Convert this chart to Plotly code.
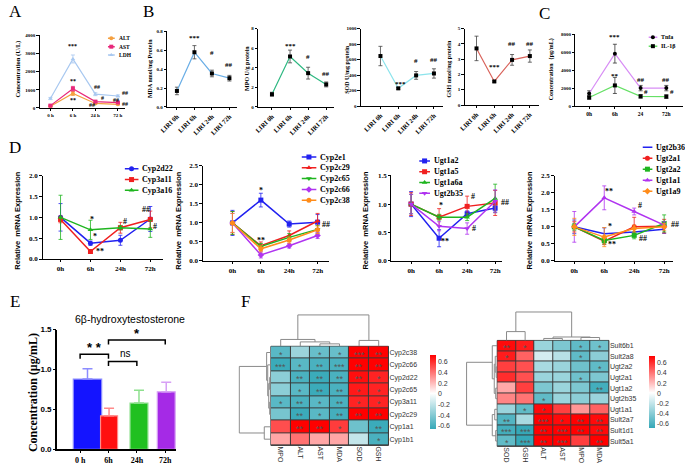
import plotly.graph_objects as go

W, H = 685, 470
SERIF = "Liberation Serif"
SANS = "Liberation Sans"

# ====================== DATA ======================
A_times = ["0 h", "6 h", "24 h", "72 h"]
A_names = ["ALT", "AST", "LDH"]
A_ALT = [100, 800, 250, 200]
A_ALT_err = [30, 110, 40, 30]
A_AST = [130, 1060, 350, 300]
A_AST_err = [40, 130, 50, 40]
A_LDH = [520, 2700, 760, 660]
A_LDH_err = [60, 220, 80, 60]
A_marks = [(1, 3400, "***"), (1, 1500, "**"), (1, 430, "**"), (2.05, 1130, "##"),
           (2.33, 540, "#"), (1.85, 160, "##"), (3.3, 810, "##"), (2.9, 430, "##"), (3.3, 220, "##")]

B_times = ["LIRI 0h", "LIRI 6h", "LIRI 24h", "LIRI 72h"]
B_MDA = [0.17, 0.58, 0.355, 0.305]
B_MDA_err = [0.04, 0.07, 0.035, 0.03]
B_MPO = [1.3, 5.15, 3.45, 2.3]
B_MPO_err = [0.2, 0.65, 0.6, 0.25]
B_SOD = [645, 228, 395, 420]
B_SOD_err = [125, 12, 50, 60]
B_GSH = [3.7, 1.54, 2.95, 3.2]
B_GSH_err = [0.8, 0.05, 0.35, 0.4]
B_MDA_marks = [(1, 0.73, "***"), (2, 0.57, "#"), (3, 0.44, "##")]
B_MPO_marks = [(1, 6.2, "***"), (2, 5.1, "#"), (3, 3.4, "##")]
B_SOD_marks = [(1.15, 290, "***"), (2, 580, "#"), (3, 600, "##")]
B_GSH_marks = [(1, 2.5, "***"), (2, 4.0, "##"), (3, 4.0, "##")]

C_times = ["0h", "6h", "24", "72h"]
C_names = ["Tnfa", "IL-1β"]
C_Tnfa = [1400, 5850, 2000, 2000]
C_Tnfa_err = [300, 1050, 300, 300]
C_IL1b = [950, 2300, 1080, 1050]
C_IL1b_err = [200, 900, 200, 200]
C_marks = [(1, 7750, "***"), (1, 3400, "**"), (2, 2950, "##"), (2.2, 1550, "#"),
           (3, 2950, "##"), (3.2, 1550, "#")]

D_times = ["0h", "6h", "24h", "72h"]
D1_names = ["Cyp2d22", "Cyp3a11", "Cyp3a16"]
D1_Cyp2d22 = [1.0, 0.38, 0.45, 0.96]
D1_Cyp2d22_err = [0.33, 0.05, 0.12, 0.3]
D1_Cyp3a11 = [0.95, 0.18, 0.75, 0.95]
D1_Cyp3a11_err = [0.08, 0.03, 0.13, 0.2]
D1_Cyp3a16 = [1.0, 0.70, 0.75, 0.72]
D1_Cyp3a16_err = [0.53, 0.23, 0.05, 0.2]
D1_marks = [(1.05, 0.95, "*"), (1.15, 0.54, "*"), (1.32, 0.17, "**"), (2.15, 0.9, "#"),
            (2.85, 1.18, "##"), (3.15, 0.78, "#")]

D2_names = ["Cyp2e1", "Cyp2c29", "Cyp2c65", "Cyp2c66", "Cyp2c38"]
D2_Cyp2e1 = [1.0, 1.6, 0.97, 1.02]
D2_Cyp2e1_err = [0.33, 0.18, 0.08, 0.2]
D2_Cyp2c29 = [1.0, 0.40, 0.67, 1.05]
D2_Cyp2c29_err = [0.3, 0.1, 0.12, 0.2]
D2_Cyp2c65 = [1.0, 0.38, 0.62, 0.83]
D2_Cyp2c65_err = [0.3, 0.08, 0.1, 0.1]
D2_Cyp2c66 = [1.0, 0.16, 0.40, 0.67]
D2_Cyp2c66_err = [0.25, 0.08, 0.06, 0.08]
D2_Cyp2c38 = [1.0, 0.32, 0.55, 0.82]
D2_Cyp2c38_err = [0.25, 0.08, 0.08, 0.1]
D2_marks = [(1, 1.85, "*"), (1, 0.55, "**"), (3.3, 0.95, "##")]

D3_names = ["Ugt1a2", "Ugt1a5", "Ugt1a6a", "Ugt2b35"]
D3_Ugt1a2 = [1.0, 0.40, 0.83, 0.93]
D3_Ugt1a2_err = [0.22, 0.15, 0.05, 0.05]
D3_Ugt1a5 = [1.0, 0.77, 0.96, 1.02]
D3_Ugt1a5_err = [0.2, 0.15, 0.18, 0.22]
D3_Ugt1a6a = [1.0, 0.77, 0.77, 1.1]
D3_Ugt1a6a_err = [0.17, 0.05, 0.06, 0.25]
D3_Ugt2b35 = [1.0, 0.61, 0.57, 1.05]
D3_Ugt2b35_err = [0.17, 0.08, 0.1, 0.2]
D3_marks = [(1.05, 0.98, "*"), (1.22, 0.34, "**"), (2.2, 1.14, "#"), (2.25, 0.57, "#"),
            (3.35, 1.03, "##")]

D4_names = ["Ugt2b36", "Ugt2a1", "Ugt2a2", "Ugt1a1", "Ugt1a9"]
D4_Ugt2b36 = [1.0, 0.80, 0.85, 0.93]
D4_Ugt2b36_err = [0.2, 0.17, 0.12, 0.12]
D4_Ugt2a1 = [1.0, 0.58, 1.0, 1.02]
D4_Ugt2a1_err = [0.15, 0.1, 0.28, 0.2]
D4_Ugt2a2 = [1.0, 0.60, 0.75, 1.1]
D4_Ugt2a2_err = [0.1, 0.1, 0.1, 0.25]
D4_Ugt1a1 = [1.0, 1.85, 1.45, 1.05]
D4_Ugt1a1_err = [0.45, 0.35, 0.1, 0.1]
D4_Ugt1a9 = [1.0, 0.70, 0.95, 1.0]
D4_Ugt1a9_err = [0.25, 0.28, 0.1, 0.1]
D4_marks = [(1.15, 2.05, "**"), (1.2, 1.0, "*"), (1.25, 0.48, "**"), (2.2, 1.62, "#"),
            (2.3, 0.66, "##"), (3.35, 1.08, "##")]

E_times = ["0 h", "6h", "24h", "72h"]
E_vals = [0.88, 0.42, 0.58, 0.72]
E_err = [0.13, 0.095, 0.16, 0.12]
E_brackets = [(0, 1, 1.19, "**"), (1, 2, 1.10, "ns"), (1, 3, 1.37, "*")]

F1_cols = ["MPO", "ALT", "AST", "MDA", "SOD", "GSH"]
F1_rows = ["Cyp2c38", "Cyp2c66", "Cyp2d22", "Cyp2c65", "Cyp3a11", "Cyp2c29", "Cyp1a1", "Cyp1b1"]
F1_vals = [
    [-0.55, -0.33, -0.50, -0.50, 0.85, 0.72],
    [-0.65, -0.55, -0.60, -0.60, 0.72, 0.75],
    [-0.38, -0.60, -0.65, -0.60, 0.68, 0.62],
    [-0.38, -0.55, -0.65, -0.60, 0.65, 0.62],
    [-0.55, -0.60, -0.55, -0.60, 0.62, 0.62],
    [-0.45, -0.65, -0.55, -0.62, 0.75, 0.75],
    [0.50, 0.80, 0.75, 0.55, -0.48, -0.65],
    [0.25, 0.40, 0.25, 0.25, -0.20, -0.60],
]
F1_stars = [
    ["*", "", "*", "*", "***", "**"],
    ["***", "*", "**", "***", "**", "**"],
    ["", "**", "**", "**", "**", "*"],
    ["", "*", "**", "**", "*", "*"],
    ["*", "**", "*", "**", "*", "*"],
    ["", "**", "*", "**", "**", "**"],
    ["", "**", "**", "*", "", "**"],
    ["", "", "", "", "", "*"],
]
F1_col_tree = ((0, (1, (2, 3, 2.5), 4.5), 7), (4, 5, 6), 32)
F1_row_tree = ((0, (1, ((2, 3, 1.2), (4, 5, 1.2), 2.2), 3.2), 4.3), (6, 7, 6.7), 32)

F2_cols = ["SOD", "GSH", "ALT", "AST", "MPO", "MDA"]
F2_rows = ["Sult6b1", "Sult2a8", "Ugt2a2", "Ugt2a1", "Ugt1a2", "Ugt2b35", "Ugt1a1",
           "Sult2a7", "Sult1d1", "Sult5a1"]
F2_vals = [
    [0.70, 0.65, -0.35, -0.45, -0.55, -0.50],
    [0.65, 0.45, -0.15, -0.25, -0.55, -0.40],
    [0.55, 0.50, -0.30, -0.35, -0.50, -0.55],
    [0.60, 0.50, -0.35, -0.35, -0.50, -0.45],
    [0.25, 0.55, -0.45, -0.35, -0.45, -0.65],
    [0.35, 0.40, -0.55, -0.35, -0.40, -0.35],
    [-0.35, -0.55, 0.70, 0.55, 0.30, 0.45],
    [-0.60, -0.30, 0.80, 0.70, 0.75, 0.70],
    [-0.65, -0.70, 0.85, 0.75, 0.80, 0.70],
    [-0.55, -0.70, 0.80, 0.80, 0.55, 0.75],
]
F2_stars = [
    ["**", "*", "", "", "*", "*"],
    ["*", "", "", "", "*", ""],
    ["", "", "", "", "", "*"],
    ["", "", "", "", "*", ""],
    ["", "", "", "", "", "**"],
    ["", "", "*", "", "", ""],
    ["", "*", "*", "", "", ""],
    ["**", "", "***", "*", "**", "**"],
    ["***", "***", "**", "***", "**", "**"],
    ["*", "***", "**", "***", "", "**"],
]
F2_col_tree = ((0, 1, 9), ((2, 3, 2), (4, 5, 3), 3.5), 29)
F2_row_tree = ((0, ((1, (2, 3, 1.0), 2.0), (4, 5, 1.5), 3.0), 5), ((6, 7, 2.5), (8, 9, 1.5), 5), 31)

# ====================== FIGURE HELPERS ======================
fig = go.Figure()
layout = dict(width=W, height=H, margin=dict(l=0, r=0, t=0, b=0), paper_bgcolor="white",
              plot_bgcolor="white", showlegend=False, barmode="overlay")
ann = []
shapes = []
_n = [0]


def clamp(v):
    return max(0.0, min(1.0, v))


def new_axes(x0, x1, y0, y1, xo, yo):
    _n[0] += 1
    n = _n[0]
    s = "" if n == 1 else str(n)
    layout["xaxis" + s] = dict(domain=[clamp(x0 / W), clamp(x1 / W)], anchor="y" + s, **xo)
    layout["yaxis" + s] = dict(domain=[clamp(1 - y1 / H), clamp(1 - y0 / H)], anchor="x" + s, **yo)
    return "x" + s, "y" + s


def cat_x(labels, rng, fs, angle=0, font=SERIF, ticklen=2.5):
    return dict(range=rng, tickmode="array", tickvals=list(range(len(labels))), ticktext=labels,
                tickangle=angle, showline=True, linecolor="black", linewidth=0.8, ticks="outside",
                ticklen=ticklen, tickwidth=0.8, tickcolor="black", showgrid=False, zeroline=False,
                tickfont=dict(family=font, size=fs, color="black", weight="bold"))


def val_y(rng, dtick, fs, fmt=None, font=SERIF):
    d = dict(range=rng, tick0=0, dtick=dtick, showline=True, linecolor="black", linewidth=0.8,
             ticks="outside", ticklen=2.5, tickwidth=0.8, tickcolor="black", showgrid=False,
             zeroline=False, tickfont=dict(family=font, size=fs, color="black", weight="bold"))
    if fmt:
        d["tickformat"] = fmt
    return d


HIDDEN = dict(visible=False, showgrid=False, zeroline=False, fixedrange=True)


def series(xa, ya, y, err, color, symbol, msize=4, mcolor=None, lw=1.2, ecolor=None):
    fig.add_trace(go.Scatter(
        x=list(range(len(y))), y=y, mode="lines+markers", xaxis=xa, yaxis=ya,
        line=dict(color=color, width=lw),
        marker=dict(symbol=symbol, size=msize, color=mcolor or color),
        error_y=dict(type="data", array=err, color=ecolor or color, thickness=0.8, width=2),
        cliponaxis=False, hoverinfo="skip"))


def marks(xa, ya, lst, ppu, fs=7, font=SERIF):
    # place on nearest category, shifted in pixels so the anchor stays inside the axis range
    for x, y, t in lst:
        base = round(x)
        ann.append(dict(xref=xa, yref=ya, x=base, y=y, xshift=(x - base) * ppu, text=t,
                        showarrow=False,
                        font=dict(family=font, size=fs, color="black", weight="bold")))


def label(x, y, text, fs, font=SERIF, angle=0, bold=True, color="black"):
    ann.append(dict(xref="paper", yref="paper", x=x / W, y=1 - y / H, text=text, showarrow=False,
                    textangle=angle, xanchor="center", yanchor="middle",
                    font=dict(family=font, size=fs, color=color, weight="bold" if bold else "normal")))


def legend_box(names, colors, symbols, x0, y_first, dy, line_len, fs, msize=4, mcolors=None, text_w=40):
    n = len(names)
    tot = line_len + text_w
    xa, ya = new_axes(x0, x0 + tot, y_first - dy / 2, y_first + (n - 0.5) * dy,
                      dict(range=[0, tot], **HIDDEN), dict(range=[n - 0.5, -0.5], **HIDDEN))
    for i, (nm, c, s) in enumerate(zip(names, colors, symbols)):
        fig.add_trace(go.Scatter(x=[0, line_len], y=[i, i], mode="lines", xaxis=xa, yaxis=ya,
                                 line=dict(color=c, width=1.5), cliponaxis=False, hoverinfo="skip"))
        fig.add_trace(go.Scatter(x=[line_len / 2], y=[i], mode="markers", xaxis=xa, yaxis=ya,
                                 marker=dict(symbol=s, size=msize, color=(mcolors[i] if mcolors else c)),
                                 cliponaxis=False, hoverinfo="skip"))
        ann.append(dict(xref=xa, yref=ya, x=line_len + 2, y=i, text=nm, showarrow=False,
                        xanchor="left", yanchor="middle",
                        font=dict(family=SERIF, size=fs, color="black", weight="bold")))


# ====================== PANEL A ======================
xa, ya = new_axes(32, 118, 32, 106, cat_x(A_times, [-0.48, 3.3], 5),
                  val_y([0, 4000], 1000, 5))
cA = ["#f5a040", "#e8287a", "#a8c8f0"]
series(xa, ya, A_ALT, A_ALT_err, cA[0], "circle", 4)
series(xa, ya, A_AST, A_AST_err, cA[1], "square", 4)
series(xa, ya, A_LDH, A_LDH_err, cA[2], "triangle-up", 4)
marks(xa, ya, A_marks, 22.7, 6)
label(10, 66, "Concentration (U/L)", 6.5, angle=-90)
legend_box(A_names, cA, ["circle", "square", "triangle-up"], 101, 35, 8.5, 7, 5.5, 4, text_w=20)

# ====================== PANEL B ======================
B_specs = [
    (161, 232, 28, 105, [-0.56, 3.45], [0, 0.8], 0.2, ".1f", B_MDA, B_MDA_err, "#6aaee6", B_MDA_marks,
     143, "MDA nmol/mg Protein"),
    (253, 330, 25, 105, [-0.77, 3.44], [0, 8], 2, None, B_MPO, B_MPO_err, "#2fb882", B_MPO_marks,
     242, "MPO U/g protein"),
    (357, 440, 25, 104, [-1.1, 3.5], [0, 1000], 200, None, B_SOD, B_SOD_err, "#8de4ec", B_SOD_marks,
     343, "SOD U/mg protein"),
    (462, 537, 25, 103, [-0.67, 3.5], [0, 5], 1, None, B_GSH, B_GSH_err, "#d9645c", B_GSH_marks,
     446, "GSH nmol/mg protein"),
]
for (x0, x1, y0, y1, xr, yr, dt, fmt, vals, errs, col, mk, lx, lt) in B_specs:
    xa, ya = new_axes(x0, x1, y0, y1, cat_x(B_times, xr, 6.5, angle=-45), val_y(yr, dt, 5, fmt))
    series(xa, ya, vals, errs, col, "square", 4, mcolor="black", ecolor="#444444")
    marks(xa, ya, mk, 18, 7)
    label(lx, 66, lt, 6, angle=-90)

# ====================== PANEL C ======================
xa, ya = new_axes(574, 683, 31, 104, cat_x(C_times, [-0.54, 3.65], 5.5),
                  val_y([0, 8000], 2000, 5))
cC = ["#d88ef5", "#66e066"]
series(xa, ya, C_Tnfa, C_Tnfa_err, cC[0], "circle", 4, mcolor="black", ecolor="#333333")
series(xa, ya, C_IL1b, C_IL1b_err, cC[1], "square", 4, mcolor="black", ecolor="#333333")
marks(xa, ya, C_marks, 26, 7)
label(550, 67, "Concentration（pg/mL)", 6, angle=-90)
legend_box(C_names, cC, ["circle", "square"], 648, 34, 9, 9, 6, 4, mcolors=["black", "black"], text_w=25)

# ====================== PANEL D ======================
BLUE, RED, GREEN, VIOL, ORNG = "#2222f0", "#f02020", "#1fb51f", "#b034f0", "#ff8c1a"
D_specs = [
    (35, 157, 175, 260, [-0.6, 3.43], [0, 2.0], D_times,
     [(D1_Cyp2d22, D1_Cyp2d22_err), (D1_Cyp3a11, D1_Cyp3a11_err), (D1_Cyp3a16, D1_Cyp3a16_err)],
     D1_names, [BLUE, RED, GREEN], ["circle", "square", "triangle-up"], D1_marks, 10,
     (118, 168, 11, 14), 30.3),
    (197, 325, 165, 262, [-1.05, 3.41], [0, 2.5], D_times,
     [(D2_Cyp2e1, D2_Cyp2e1_err), (D2_Cyp2c29, D2_Cyp2c29_err), (D2_Cyp2c65, D2_Cyp2c65_err),
      (D2_Cyp2c66, D2_Cyp2c66_err), (D2_Cyp2c38, D2_Cyp2c38_err)],
     D2_names, [BLUE, RED, GREEN, VIOL, ORNG], ["square", "triangle-up", "triangle-down", "diamond", "circle"],
     D2_marks, 173, (297, 156, 11, 15), 28.7),
    (388, 500, 175, 262, [-0.7, 3.25], [0, 1.5], D_times,
     [(D3_Ugt1a2, D3_Ugt1a2_err), (D3_Ugt1a5, D3_Ugt1a5_err), (D3_Ugt1a6a, D3_Ugt1a6a_err),
      (D3_Ugt2b35, D3_Ugt2b35_err)],
     D3_names, [BLUE, RED, GREEN, VIOL], ["square", "square", "triangle-up", "triangle-down"],
     D3_marks, 362, (416, 160, 11, 11), 28.3),
    (553, 673, 175, 262, [-0.66, 3.3], [0, 2.5], D_times,
     [(D4_Ugt2b36, D4_Ugt2b36_err), (D4_Ugt2a1, D4_Ugt2a1_err), (D4_Ugt2a2, D4_Ugt2a2_err),
      (D4_Ugt1a1, D4_Ugt1a1_err), (D4_Ugt1a9, D4_Ugt1a9_err)],
     D4_names, [BLUE, RED, GREEN, VIOL, ORNG], ["cross-thin", "circle", "square", "triangle-up", "diamond"],
     D4_marks, 528, (642, 146, 11.2, 10), 30.3),
]
for (x0, x1, y0, y1, xr, yr, times, ser, names, cols, syms, mk, lx, lg, ppu) in D_specs:
    xa, ya = new_axes(x0, x1, y0, y1, cat_x(times, xr, 7), val_y(yr, 0.5, 7, ".1f"))
    for (v, e), c, s in zip(ser, cols, syms):
        series(xa, ya, v, e, c, s, 5, lw=1.5)
    marks(xa, ya, mk, ppu, 8)
    label(lx, 220, "Relative  mRNA Expression", 7.5, font=SANS, angle=-90)
    legend_box(names, cols, syms, lg[0], lg[1], lg[2], lg[3], 8, 5, text_w=min(35, 684 - lg[0] - lg[3]))

# ====================== PANEL E ======================
E_colors = ["#1414ff", "#ff1010", "#20c020", "#a52ae6"]
E_edges = ["#8c8cff", "#ff8a8a", "#8ee08e", "#d7a0f5"]
E_width = [1.0, 0.6, 0.63, 0.63]
E_offset = [-0.24, -0.28, -0.24, -0.28]
xa, ya = new_axes(50, 170, 332, 454, cat_x(E_times, [-0.8, 3.38], 8, ticklen=2),
                  val_y([0, 1.5], 0.5, 8, ".1f", font=SANS))
layout[xa.replace("x", "xaxis")]["linewidth"] = 1.5
layout[ya.replace("y", "yaxis")]["linewidth"] = 1.5
for i in range(len(E_vals)):
    fig.add_trace(go.Bar(x=[i], y=[E_vals[i]], width=[E_width[i]], offset=[E_offset[i]],
                         xaxis=xa, yaxis=ya,
                         marker=dict(color=E_colors[i], line=dict(color=E_edges[i], width=1.2)),
                         error_y=dict(type="data", array=[E_err[i]], arrayminus=[0], symmetric=False,
                                      color=E_edges[i], thickness=1.5, width=5),
                         hoverinfo="skip"))
for a, b, y, t in E_brackets:
    shapes.append(dict(type="path", xref=xa, yref=ya,
                       path=f"M {a},{y - 0.055} L {a},{y} L {b},{y} L {b},{y - 0.055}",
                       line=dict(color="black", width=1.5)))
    if t == "ns":
        ann.append(dict(xref=xa, yref=ya, x=(a + b) / 2 + 0.1, y=y, text=t, showarrow=False,
                        yanchor="bottom", yshift=1, font=dict(family=SANS, size=10, color="black")))
    else:
        ann.append(dict(xref=xa, yref=ya, x=(a + b) / 2, y=y, text=" ".join(t), showarrow=False,
                        yanchor="bottom", yshift=-3,
                        font=dict(family=SANS, size=13, color="black", weight="bold")))
label(123, 321, "6β-hydroxytestosterone", 10.5, font=SANS, bold=False)
label(26, 396, "Concentration (μg/mL)", 12, angle=-90)


# ====================== PANEL F ======================
def dendro(node):
    if isinstance(node, int):
        return float(node), 0.0, [], []
    l, r, h = node
    pl, hl, al, bl = dendro(l)
    pr, hr, ar, br = dendro(r)
    return (pl + pr) / 2, h, al + ar + [pl, pl, pr, pr, None], bl + br + [hl, h, h, hr, None]


def heat_panel(cols, rows, vals, stars, ctree, rtree, box, top_h, left_w, zr, cb_x, cb_y, cb_len):
    x0, x1, y0, y1 = box
    nc, nr = len(cols), len(rows)
    tf = dict(family=SANS, size=7, color="#333333")
    hx, hy = new_axes(x0, x1, y0, y1,
                      dict(range=[-0.5, nc - 0.5], tickmode="array", tickvals=list(range(nc)),
                           ticktext=cols, tickangle=90, showgrid=False, zeroline=False, showline=False,
                           ticks="", tickfont=tf),
                      dict(range=[nr - 0.5, -0.5], tickmode="array", tickvals=list(range(nr)),
                           ticktext=rows, side="right", showgrid=False, zeroline=False, showline=False,
                           ticks="", tickfont=tf))
    shapes.append(dict(type="rect", xref=hx + " domain", yref=hy + " domain", x0=0, x1=1, y0=0, y1=1,
                       fillcolor="#3a3a3a", line=dict(width=1, color="#3a3a3a"), layer="below"))
    wpos = (0 - zr[0]) / (zr[1] - zr[0])
    fig.add_trace(go.Heatmap(
        z=vals, x=list(range(nc)), y=list(range(nr)), xaxis=hx, yaxis=hy, zmin=zr[0], zmax=zr[1],
        colorscale=[[0, "#35a8b8"], [wpos, "#ffffff"], [1, "#ff0000"]], xgap=1, ygap=1,
        hoverinfo="skip",
        colorbar=dict(x=cb_x / W, xanchor="left", y=1 - cb_y / H, yanchor="middle", len=cb_len,
                      lenmode="pixels", thickness=6, outlinewidth=0, ticks="",
                      tickvals=[0.6, 0.4, 0.2, 0, -0.2, -0.4, -0.6],
                      ticktext=["0.6", "0.4", "0.2", "0", "-0.2", "-0.4", "-0.6"],
                      tickfont=tf)))
    for r in range(nr):
        for c in range(nc):
            if stars[r][c]:
                ann.append(dict(xref=hx, yref=hy, x=c, y=r, text=stars[r][c], showarrow=False,
                                yshift=-2, font=dict(family=SANS, size=9, color="#555555")))
    # top dendrogram
    _, rh, xs, ys = dendro(ctree)
    tx, ty = new_axes(x0, x1, y0 - top_h, y0, dict(range=[-0.5, nc - 0.5], **HIDDEN),
                      dict(range=[0, top_h], **HIDDEN))
    fig.add_trace(go.Scatter(x=xs, y=ys, mode="lines", xaxis=tx, yaxis=ty,
                             line=dict(color="#8a8a8a", width=1), hoverinfo="skip", cliponaxis=False))
    # left dendrogram
    _, rh, ps, hs = dendro(rtree)
    lx, ly = new_axes(x0 - left_w, x0, y0, y1, dict(range=[left_w, 0], **HIDDEN),
                      dict(range=[nr - 0.5, -0.5], **HIDDEN))
    fig.add_trace(go.Scatter(x=hs, y=ps, mode="lines", xaxis=lx, yaxis=ly,
                             line=dict(color="#8a8a8a", width=1), hoverinfo="skip", cliponaxis=False))


heat_panel(F1_cols, F1_rows, F1_vals, F1_stars, F1_col_tree, F1_row_tree, (266, 385, 349, 450),
           33, 33, (-0.67, 0.72), 417, 396, 94)
heat_panel(F2_cols, F2_rows, F2_vals, F2_stars, F2_col_tree, F2_row_tree, (495, 608, 343, 451),
           30, 32, (-0.70, 0.73), 638, 396, 92)

# ====================== PANEL LETTERS ======================
for (x, y, t) in [(8, 8, "A"), (142, 8, "B"), (543, 10, "C"), (7, 146, "D"), (7, 303, "E"), (240, 303, "F")]:
    label(x, y, t, 17, bold=False)

layout["annotations"] = ann
layout["shapes"] = shapes
fig.update_layout(**layout)
fig.write_html("out.html", config={"displayModeBar": False},
               post_script="document.body.style.margin='0px';document.body.style.overflow='hidden';")
